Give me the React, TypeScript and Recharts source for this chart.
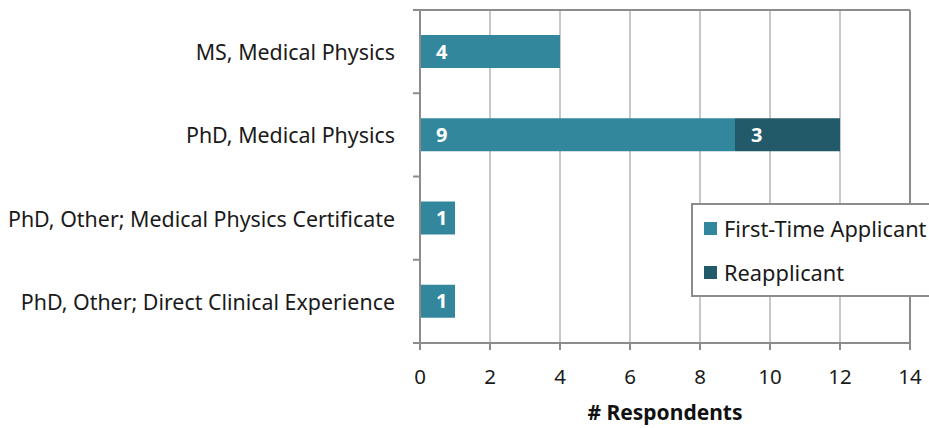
import React from "react"
import {
  Bar,
  BarChart,
  CartesianGrid,
  LabelList,
  Legend,
  ReferenceLine,
  XAxis,
  YAxis,
} from "recharts"

const categories = [
  "MS, Medical Physics",
  "PhD, Medical Physics",
  "PhD, Other; Medical Physics Certificate",
  "PhD, Other; Direct Clinical Experience",
]
const firstTime = [4, 9, 1, 1]
const reapplicant = [0, 3, 0, 0]
const xTicks = [0, 2, 4, 6, 8, 10, 12, 14]

const seriesNames = ["First-Time Applicant", "Reapplicant"]
const colors = ["#33879c", "#225a69"]
const font = "'Noto Sans', Lato, sans-serif"
const axisGray = "#8c8c8c"

const data = categories.map((name, i) => ({
  name,
  first: firstTime[i],
  re: reapplicant[i] || null,
}))

function CategoryTick(props: any) {
  const { x, y, payload, index, height, visibleTicksCount } = props
  const band = height / visibleTicksCount
  const ax = x + 30
  return (
    <g>
      <text
        x={x + 5}
        y={y}
        textAnchor="end"
        dominantBaseline="central"
        fill="#1a1a1a"
        fontSize={21.4}
        fontFamily={font}
      >
        {payload.value}
      </text>
      <line x1={ax - 7} x2={ax} y1={y - band / 2} y2={y - band / 2} stroke={axisGray} strokeWidth={2} />
      {index === visibleTicksCount - 1 && (
        <line x1={ax - 7} x2={ax} y1={y + band / 2} y2={y + band / 2} stroke={axisGray} strokeWidth={2} />
      )}
    </g>
  )
}

function LegendBox() {
  return (
    <div
      style={{
        border: `2px solid ${axisGray}`,
        background: "#fff",
        padding: "5px 0 5px 11px",
        width: 260,
        fontFamily: font,
        fontSize: 21.8,
        color: "#1a1a1a",
        boxSizing: "border-box",
      }}
    >
      {seriesNames.map((n, i) => (
        <div
          key={n}
          style={{ display: "flex", alignItems: "center", height: 36, marginBottom: i === 0 ? 8 : 0 }}
        >
          <span
            style={{ width: 13, height: 13, background: colors[i], marginRight: 7, display: "inline-block" }}
          />
          {n}
        </div>
      ))}
    </div>
  )
}

export default function App() {
  return (
    <div style={{ position: "absolute", left: 0, top: 0, width: 929, height: 428, overflow: "hidden", background: "#fff" }}>
      <BarChart
        width={929}
        height={428}
        data={data}
        layout="vertical"
        barCategoryGap="30%"
        margin={{ top: 10, right: 19, bottom: 0, left: 0 }}
      >
        <CartesianGrid horizontal={false} stroke="#c8c8c8" strokeWidth={2} />
        <XAxis
          type="number"
          domain={[0, 14]}
          ticks={xTicks}
          height={85}
          tickSize={7}
          tickMargin={19}
          tickLine={{ stroke: axisGray, strokeWidth: 2 }}
          axisLine={{ stroke: axisGray, strokeWidth: 2 }}
          tick={{ fill: "#1a1a1a", fontSize: 20.5, fontFamily: font }}
          label={{
            value: "# Respondents",
            position: "insideBottom",
            offset: 8,
            fill: "#111",
            fontSize: 21,
            fontWeight: 700,
            fontFamily: font,
          }}
        />
        <YAxis
          type="category"
          dataKey="name"
          width={420}
          tickLine={false}
          tickMargin={24}
          axisLine={{ stroke: axisGray, strokeWidth: 2 }}
          tick={<CategoryTick />}
        />
        <ReferenceLine x={14} stroke={axisGray} strokeWidth={2} />
        <ReferenceLine y={categories[0]} position="start" stroke={axisGray} strokeWidth={2} />
        <Legend
          content={<LegendBox />}
          layout="horizontal"
          verticalAlign="middle"
          wrapperStyle={{ left: 691, top: 203, width: 262 }}
        />
        <Bar dataKey="first" name={seriesNames[0]} stackId="a" fill={colors[0]} isAnimationActive={false}>
          <LabelList dataKey="first" position="insideLeft" offset={16} fill="#fff" fontSize={20} fontWeight={700} fontFamily={font} />
        </Bar>
        <Bar dataKey="re" name={seriesNames[1]} stackId="a" fill={colors[1]} isAnimationActive={false}>
          <LabelList dataKey="re" position="insideLeft" offset={16} fill="#fff" fontSize={20} fontWeight={700} fontFamily={font} />
        </Bar>
      </BarChart>
    </div>
  )
}
